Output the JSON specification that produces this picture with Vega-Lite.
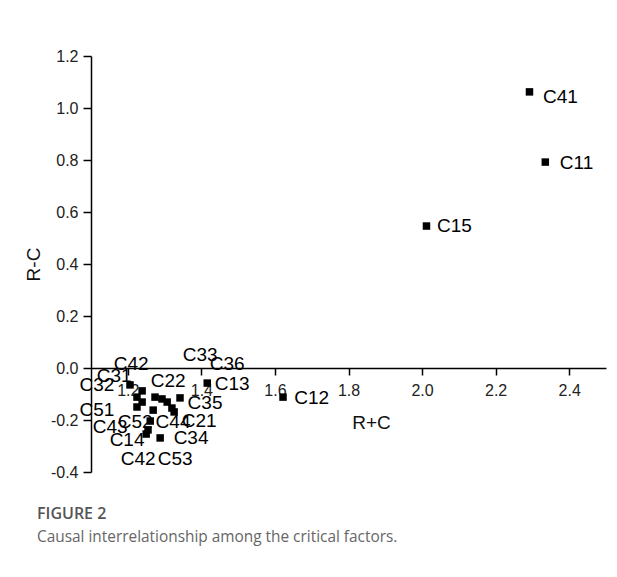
{
  "$schema": "https://vega.github.io/schema/vega-lite/v6.json",
  "width": 515,
  "height": 416,
  "autosize": {"type": "none"},
  "padding": {"left": 91, "top": 56, "right": 11, "bottom": 105},
  "background": "white",
  "config": {
    "view": {"stroke": null},
    "font": "Liberation Sans",
    "title": {"font": "Open Sans", "fontSize": 16, "fontWeight": 600, "color": "#555555", "subtitleFont": "Open Sans", "subtitleFontSize": 15.4, "subtitleColor": "#666666", "subtitlePadding": 8}
  },
  "title": {
    "text": "FIGURE 2",
    "subtitle": "Causal interrelationship among the critical factors.",
    "orient": "bottom",
    "anchor": "start",
    "frame": "group",
    "dx": -54,
    "offset": 26
  },
  "data": {
    "values": [
      {"name": "C41", "x": 2.292, "y": 1.062, "lx": 2.376, "ly": 1.042},
      {"name": "C11", "x": 2.335, "y": 0.792, "lx": 2.420, "ly": 0.788},
      {"name": "C15", "x": 2.012, "y": 0.546, "lx": 2.088, "ly": 0.546},
      {"name": "C12", "x": 1.622, "y": -0.112, "lx": 1.700, "ly": -0.115},
      {"name": "C13", "x": 1.416, "y": -0.058, "lx": 1.484, "ly": -0.062},
      {"name": "C31", "x": 1.206, "y": -0.065, "lx": 1.163, "ly": -0.031},
      {"name": "C42", "x": 1.239, "y": -0.088, "lx": 1.209, "ly": 0.015},
      {"name": "C32", "x": 1.225, "y": -0.112, "lx": 1.116, "ly": -0.065},
      {"name": "C43", "x": 1.239, "y": -0.131, "lx": 1.152, "ly": -0.227},
      {"name": "C51", "x": 1.225, "y": -0.150, "lx": 1.116, "ly": -0.162},
      {"name": "C22", "x": 1.274, "y": -0.112, "lx": 1.310, "ly": -0.050},
      {"name": "C33", "x": 1.293, "y": -0.119, "lx": 1.397, "ly": 0.050},
      {"name": "C36", "x": 1.307, "y": -0.131, "lx": 1.470, "ly": 0.015},
      {"name": "C44", "x": 1.320, "y": -0.154, "lx": 1.323, "ly": -0.208},
      {"name": "C35", "x": 1.342, "y": -0.115, "lx": 1.410, "ly": -0.135},
      {"name": "C52", "x": 1.269, "y": -0.162, "lx": 1.220, "ly": -0.208},
      {"name": "C21", "x": 1.326, "y": -0.169, "lx": 1.394, "ly": -0.204},
      {"name": "C53", "x": 1.261, "y": -0.204, "lx": 1.329, "ly": -0.350},
      {"name": "C14", "x": 1.255, "y": -0.238, "lx": 1.198, "ly": -0.277},
      {"name": "C42", "x": 1.250, "y": -0.254, "lx": 1.228, "ly": -0.350},
      {"name": "C34", "x": 1.288, "y": -0.269, "lx": 1.372, "ly": -0.269}
    ]
  },
  "layer": [
    {
      "mark": {"type": "point", "shape": "square", "filled": true, "color": "black", "size": 56, "opacity": 1},
      "encoding": {
        "x": {
          "field": "x", "type": "quantitative",
          "scale": {"domain": [1.1, 2.5], "nice": false, "zero": false},
          "axis": {
            "title": "R+C",
            "offset": -104,
            "values": [1.2, 1.3, 1.4, 1.5, 1.6, 1.7, 1.8, 1.9, 2.0, 2.1, 2.2, 2.3, 2.4, 2.5],
            "labelExpr": "abs(datum.value*5 - round(datum.value*5)) < 0.01 ? format(datum.value, '.1f') : ''",
            "labelFont": "Liberation Sans", "labelFontSize": 16, "labelColor": "#222222", "labelPadding": 7,
            "labelFlush": false, "labelOverlap": false,
            "grid": false,
            "domainColor": "black", "domainWidth": 1.5,
            "tickColor": "black", "tickWidth": 1.5,
            "tickSize": {"condition": {"test": "abs(datum.value*5 - round(datum.value*5)) < 0.01", "value": 7}, "value": 4},
            "titleFont": "Liberation Sans", "titleFontSize": 19, "titleFontWeight": "normal", "titleColor": "#111111",
            "titleX": 280, "titleY": 54, "titleAlign": "center", "titleBaseline": "middle"
          }
        },
        "y": {
          "field": "y", "type": "quantitative",
          "scale": {"domain": [-0.4, 1.2], "nice": false, "zero": false},
          "axis": {
            "title": "R-C",
            "values": [-0.4, -0.3, -0.2, -0.1, 0, 0.1, 0.2, 0.3, 0.4, 0.5, 0.6, 0.7, 0.8, 0.9, 1.0, 1.1, 1.2],
            "labelExpr": "abs(datum.value*5 - round(datum.value*5)) < 0.01 ? replace(format(datum.value, '.1f'), '\u2212', '-') : ''",
            "labelFont": "Liberation Sans", "labelFontSize": 16, "labelColor": "#222222", "labelPadding": 5,
            "labelFlush": false, "labelOverlap": false,
            "grid": false,
            "domainColor": "black", "domainWidth": 1.5,
            "tickColor": "black", "tickWidth": 1.5,
            "tickSize": {"condition": {"test": "abs(datum.value*5 - round(datum.value*5)) < 0.01", "value": 8}, "value": 5},
            "titleFont": "Liberation Sans", "titleFontSize": 19, "titleFontWeight": "normal", "titleColor": "#111111",
            "titleX": -58, "titleY": 208, "titleAlign": "center", "titleBaseline": "middle", "titleAngle": -90
          }
        }
      }
    },
    {
      "mark": {"type": "text", "font": "Liberation Sans", "fontSize": 19, "color": "black", "align": "center", "baseline": "middle"},
      "encoding": {
        "x": {"field": "lx", "type": "quantitative"},
        "y": {"field": "ly", "type": "quantitative"},
        "text": {"field": "name"}
      }
    }
  ]
}
